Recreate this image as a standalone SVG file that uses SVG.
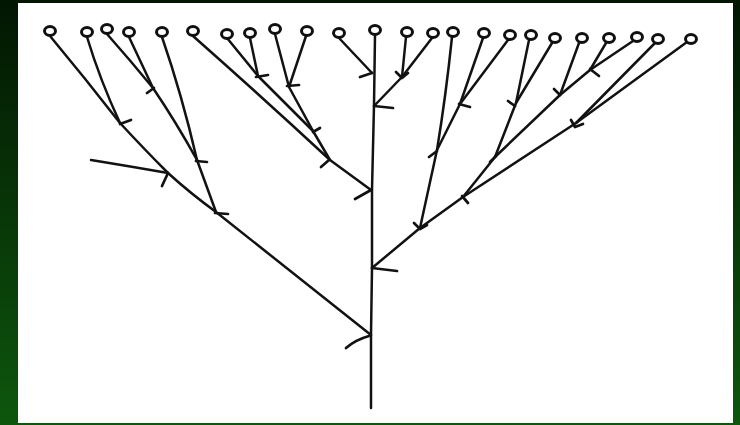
<svg xmlns="http://www.w3.org/2000/svg" width="740" height="425" viewBox="0 0 740 425">
<defs>
<linearGradient id="bg" x1="0" y1="0" x2="0" y2="1">
<stop offset="0" stop-color="#021602"/>
<stop offset="1" stop-color="#0d560d"/>
</linearGradient>
<style>
.n{fill:#fff;stroke:#101010;stroke-width:3}
.l{fill:none;stroke:#121212;stroke-width:2.5;stroke-linecap:round;stroke-linejoin:round}
.b{fill:none;stroke:#121212;stroke-width:2.7;stroke-linecap:round;stroke-linejoin:round}
</style>
</defs>
<rect x="0" y="0" width="740" height="425" fill="url(#bg)"/>
<rect x="18" y="3" width="715" height="420" fill="#ffffff"/>
<g id="connectors">
<path class="l" d="M50,36 Q85,78 120,123 Q145,150 168,173 Q190,193 216,212 L371,335"/>
<path class="l" d="M87,37 Q100,80 120,123"/>
<path class="l" d="M107,34 Q130,60 153,88"/>
<path class="l" d="M129,37 L153,88 Q176,122 197,160 L216,212"/>
<path class="l" d="M162,37 Q182,95 197,160"/>
<path class="l" d="M91,160 Q128,166 168,173"/>
<path class="l" d="M193,36 Q262,97 330,160 L371,190"/>
<path class="l" d="M227,38 L258,76"/>
<path class="l" d="M250,38 L258,76 L313,131"/>
<path class="l" d="M275,34 L289,87"/>
<path class="l" d="M306,36 L289,87 L313,131 L330,160"/>
<path class="l" d="M339,38 L372,73"/>
<path class="l" d="M375,35 L374,105 L372,190 L372,268 L371,335 L371,408"/>
<path class="l" d="M406,37 L402,77"/>
<path class="l" d="M432,38 L402,77 L375,105"/>
<path class="l" d="M452,37 Q446,95 437,150"/>
<path class="l" d="M483,38 L460,104"/>
<path class="l" d="M508,40 L460,104 L437,150 L420,228"/>
<path class="l" d="M529,40 L516,103"/>
<path class="l" d="M552,43 L516,103 L495,157 L463,197"/>
<path class="l" d="M579,43 L560,95"/>
<path class="l" d="M606,43 L590,70"/>
<path class="l" d="M633,41 L590,70 L560,95 L495,157"/>
<path class="l" d="M655,43 L576,123"/>
<path class="l" d="M687,42 L576,123 L463,197 L420,228 L372,268"/>
<path class="b" d="M120,124 L131,120"/>
<path class="b" d="M154,88 L147,93"/>
<path class="b" d="M196,161 L207,162"/>
<path class="b" d="M168,173 L162,186"/>
<path class="b" d="M215,213 L228,214"/>
<path class="b" d="M369,336 Q355,340 346,348"/>
<path class="b" d="M256,77 L268,75"/>
<path class="b" d="M287,86 L299,85"/>
<path class="b" d="M313,132 L320,128"/>
<path class="b" d="M329,160 L321,167"/>
<path class="b" d="M371,190 L355,199"/>
<path class="b" d="M372,73 L360,77"/>
<path class="b" d="M396,72 L402,78 L408,73"/>
<path class="b" d="M374,106 L393,108"/>
<path class="b" d="M459,104 L470,107"/>
<path class="b" d="M437,151 L429,157"/>
<path class="b" d="M414,223 L420,229 L427,225"/>
<path class="b" d="M372,268 L397,271"/>
<path class="b" d="M508,101 L515,106"/>
<path class="b" d="M590,69 L599,76"/>
<path class="b" d="M554,89 L560,95"/>
<path class="b" d="M571,120 L575,127 L583,124"/>
<path class="b" d="M496,156 L490,162"/>
<path class="b" d="M462,196 L468,203"/>
</g>
<g id="nodes">
<g id="n1"><ellipse class="n" cx="50" cy="31" rx="5.5" ry="4.5"/></g>
<g id="n2"><ellipse class="n" cx="87" cy="32" rx="5.5" ry="4.5"/></g>
<g id="n3"><ellipse class="n" cx="107" cy="29" rx="5.5" ry="4.5"/></g>
<g id="n4"><ellipse class="n" cx="129" cy="32" rx="5.5" ry="4.5"/></g>
<g id="n5"><ellipse class="n" cx="162" cy="32" rx="5.5" ry="4.5"/></g>
<g id="n6"><ellipse class="n" cx="193" cy="31" rx="5.5" ry="4.5"/></g>
<g id="n7"><ellipse class="n" cx="227" cy="34" rx="5.5" ry="4.5"/></g>
<g id="n8"><ellipse class="n" cx="250" cy="33" rx="5.5" ry="4.5"/></g>
<g id="n9"><ellipse class="n" cx="275" cy="29" rx="5.5" ry="4.5"/></g>
<g id="n10"><ellipse class="n" cx="307" cy="31" rx="5.5" ry="4.5"/></g>
<g id="n11"><ellipse class="n" cx="339" cy="33" rx="5.5" ry="4.5"/></g>
<g id="n12"><ellipse class="n" cx="375" cy="30" rx="5.5" ry="4.5"/></g>
<g id="n13"><ellipse class="n" cx="407" cy="32" rx="5.5" ry="4.5"/></g>
<g id="n14"><ellipse class="n" cx="433" cy="33" rx="5.5" ry="4.5"/></g>
<g id="n15"><ellipse class="n" cx="453" cy="32" rx="5.5" ry="4.5"/></g>
<g id="n16"><ellipse class="n" cx="484" cy="33" rx="5.5" ry="4.5"/></g>
<g id="n17"><ellipse class="n" cx="510" cy="35" rx="5.5" ry="4.5"/></g>
<g id="n18"><ellipse class="n" cx="531" cy="35" rx="5.5" ry="4.5"/></g>
<g id="n19"><ellipse class="n" cx="555" cy="38" rx="5.5" ry="4.5"/></g>
<g id="n20"><ellipse class="n" cx="582" cy="38" rx="5.5" ry="4.5"/></g>
<g id="n21"><ellipse class="n" cx="609" cy="38" rx="5.5" ry="4.5"/></g>
<g id="n22"><ellipse class="n" cx="637" cy="37" rx="5.5" ry="4.5"/></g>
<g id="n23"><ellipse class="n" cx="658" cy="39" rx="5.5" ry="4.5"/></g>
<g id="n24"><ellipse class="n" cx="691" cy="39" rx="5.5" ry="4.5"/></g>
</g>
</svg>
